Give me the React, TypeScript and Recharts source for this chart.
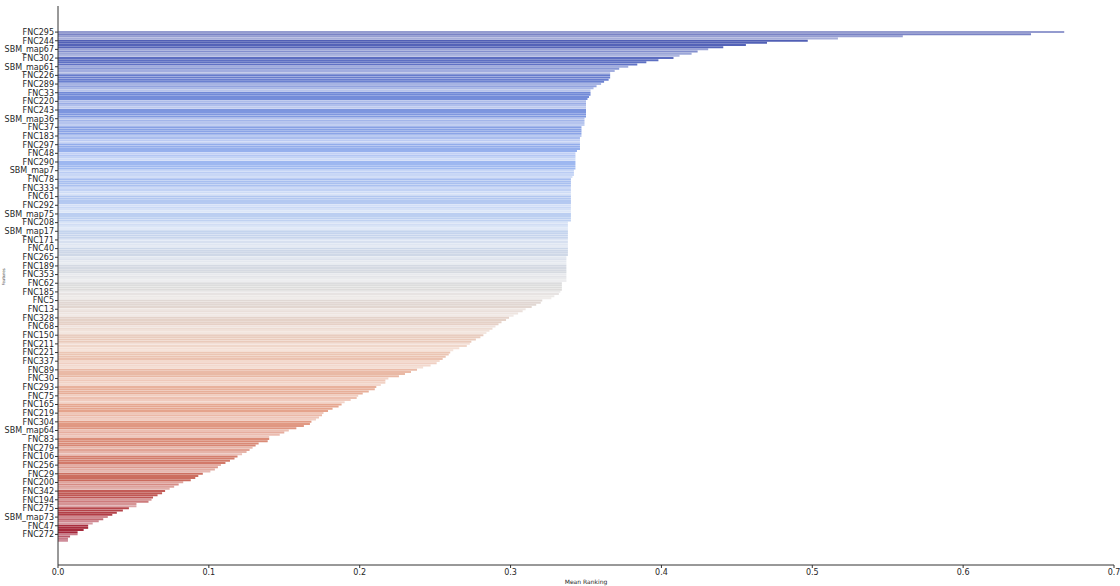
import React from 'react';
import { BarChart, Bar, XAxis, YAxis, Cell } from 'recharts';

// one tick label every 4 bars, top to bottom
const featureLabels = [
  'FNC295', 'FNC244', 'SBM_map67', 'FNC302', 'SBM_map61', 'FNC226', 'FNC289', 'FNC33',
  'FNC220', 'FNC243', 'SBM_map36', 'FNC37', 'FNC183', 'FNC297', 'FNC48', 'FNC290',
  'SBM_map7', 'FNC78', 'FNC333', 'FNC61', 'FNC292', 'SBM_map75', 'FNC208', 'SBM_map17',
  'FNC171', 'FNC40', 'FNC265', 'FNC189', 'FNC353', 'FNC62', 'FNC185', 'FNC5',
  'FNC13', 'FNC328', 'FNC68', 'FNC150', 'FNC211', 'FNC221', 'FNC337', 'FNC89',
  'FNC30', 'FNC293', 'FNC75', 'FNC165', 'FNC219', 'FNC304', 'SBM_map64', 'FNC83',
  'FNC279', 'FNC106', 'FNC256', 'FNC29', 'FNC200', 'FNC342', 'FNC194', 'FNC275',
  'SBM_map73', 'FNC47', 'FNC272',
];

const barsPerLabel = 4;

// mean ranking of every bar, read group by group (4 per label)
const meanRanking = [
  0.667, 0.645, 0.560, 0.517,
  0.497, 0.470, 0.456, 0.441,
  0.431, 0.424, 0.420, 0.412,
  0.408, 0.398, 0.390, 0.384,
  0.378, 0.372, 0.369, 0.366,
  0.366, 0.366, 0.365, 0.362,
  0.360, 0.357, 0.355, 0.353,
  0.353, 0.353, 0.352, 0.351,
  0.350, 0.350, 0.350, 0.350,
  0.350, 0.350, 0.350, 0.350,
  0.349, 0.349, 0.349, 0.349,
  0.347, 0.347, 0.347, 0.347,
  0.347, 0.346, 0.346, 0.346,
  0.346, 0.346, 0.346, 0.344,
  0.343, 0.343, 0.343, 0.343,
  0.343, 0.343, 0.343, 0.343,
  0.342, 0.342, 0.342, 0.341,
  0.340, 0.340, 0.340, 0.340,
  0.340, 0.340, 0.340, 0.340,
  0.340, 0.340, 0.340, 0.340,
  0.340, 0.340, 0.340, 0.340,
  0.340, 0.340, 0.340, 0.340,
  0.338, 0.338, 0.338, 0.338,
  0.338, 0.338, 0.338, 0.338,
  0.338, 0.338, 0.338, 0.338,
  0.338, 0.338, 0.338, 0.338,
  0.337, 0.337, 0.337, 0.337,
  0.337, 0.337, 0.337, 0.337,
  0.337, 0.337, 0.337, 0.337,
  0.334, 0.334, 0.334, 0.334,
  0.333, 0.332, 0.329, 0.327,
  0.321, 0.320, 0.317, 0.314,
  0.310, 0.308, 0.305, 0.302,
  0.299, 0.297, 0.294, 0.292,
  0.290, 0.288, 0.286, 0.284,
  0.282, 0.280, 0.277, 0.274,
  0.273, 0.271, 0.266, 0.262,
  0.260, 0.259, 0.257, 0.255,
  0.253, 0.251, 0.247, 0.242,
  0.238, 0.234, 0.230, 0.226,
  0.219, 0.217, 0.217, 0.214,
  0.211, 0.210, 0.206, 0.202,
  0.199, 0.198, 0.194, 0.190,
  0.188, 0.186, 0.182, 0.179,
  0.176, 0.175, 0.173, 0.171,
  0.168, 0.167, 0.163, 0.158,
  0.153, 0.150, 0.147, 0.140,
  0.140, 0.139, 0.133, 0.131,
  0.129, 0.127, 0.125, 0.122,
  0.119, 0.117, 0.114, 0.111,
  0.108, 0.106, 0.104, 0.101,
  0.096, 0.093, 0.091, 0.088,
  0.083, 0.080, 0.077, 0.074,
  0.071, 0.069, 0.066, 0.063,
  0.062, 0.060, 0.052, 0.052,
  0.047, 0.043, 0.039, 0.036,
  0.033, 0.030, 0.027, 0.023,
  0.020, 0.020, 0.017, 0.013,
  0.013, 0.008, 0.0066, 0.0066,
];

const xTicks = [0, 0.1, 0.2, 0.3, 0.4, 0.5, 0.6, 0.7];

// coolwarm colormap stops
const coolwarmStops = [
  [59, 76, 192], [98, 130, 234], [141, 176, 254], [184, 208, 249], [221, 221, 221],
  [245, 196, 173], [244, 154, 123], [222, 96, 77], [180, 4, 38],
];

// light bands in every other group (aliasing stripes)
const lightBand = [0.6, 0.75, 0.6, 0.5];

function coolwarm(t: number): number[] {
  const pos = t * (coolwarmStops.length - 1);
  const i = Math.min(Math.floor(pos), coolwarmStops.length - 2);
  const f = pos - i;
  const a = coolwarmStops[i];
  const b = coolwarmStops[i + 1];
  return a.map((c, k) => c + (b[k] - c) * f);
}

// seaborn-style desaturation (scale HLS saturation)
function desaturate(rgb: number[], prop: number): string {
  const [r, g, b] = rgb.map((c) => c / 255);
  const max = Math.max(r, g, b);
  const min = Math.min(r, g, b);
  const l = (max + min) / 2;
  if (max === min) {
    const v = Math.round(l * 255);
    return `rgb(${v},${v},${v})`;
  }
  const d = max - min;
  const s = l > 0.5 ? d / (2 - max - min) : d / (max + min);
  const d2 = s * prop * (1 - Math.abs(2 * l - 1));
  const out = [r, g, b].map((c) => {
    const rel = (c - min) / d;
    return Math.round((l - d2 / 2 + rel * d2) * 255);
  });
  return `rgb(${out[0]},${out[1]},${out[2]})`;
}

const data = meanRanking.map((value, i) => {
  const group = Math.floor(i / barsPerLabel);
  const k = i % barsPerLabel;
  return {
    id: k === 0 ? featureLabels[group] : `${featureLabels[group]}#${k}`,
    value,
  };
});

const font = 'DejaVu Sans, sans-serif';

export default function App() {
  return (
    <div style={{ position: 'absolute', left: 0, top: 0, background: '#fff' }}>
      <BarChart
        width={1120}
        height={586}
        data={data}
        layout='vertical'
        barCategoryGap={0}
        margin={{ top: 6, right: 6, bottom: 0, left: 0 }}
      >
        <XAxis
          type='number'
          dataKey='value'
          domain={[0, 0.7]}
          ticks={xTicks}
          tickFormatter={(v: number) => v.toFixed(1)}
          allowDataOverflow
          height={21}
          tickSize={3}
          tickMargin={1}
          stroke='#333'
          tick={{ fontSize: 8, fill: '#262626', fontFamily: font }}
          label={{ value: 'Mean Ranking', position: 'insideBottom', offset: 2, fontSize: 6, fill: '#262626', fontFamily: font }}
        />
        <YAxis
          type='category'
          dataKey='id'
          width={58}
          interval={barsPerLabel - 1}
          padding={{ top: 25, bottom: 23 }}
          tickSize={3}
          tickMargin={1}
          stroke='#333'
          tickFormatter={(v: string) => v.split('#')[0]}
          tick={{ fontSize: 8, fill: '#262626', fontFamily: font }}
          label={{ value: 'Features', angle: -90, position: 'insideLeft', offset: 4, fontSize: 4, fill: '#444', fontFamily: font }}
        />
        <Bar dataKey='value' isAnimationActive={false}>
          {data.map((d, i) => {
            const group = Math.floor(i / barsPerLabel);
            const light = group % 2 === 0;
            return (
              <Cell
                key={d.id}
                fill={desaturate(coolwarm(i / (data.length - 1)), 0.75)}
                fillOpacity={light ? lightBand[i % barsPerLabel] : 1}
              />
            );
          })}
        </Bar>
      </BarChart>
    </div>
  );
}
